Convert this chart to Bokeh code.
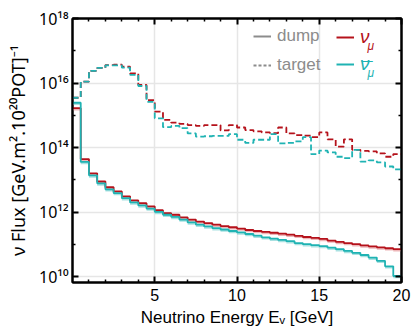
from bokeh.plotting import figure
from bokeh.models import (FixedTicker, LogAxis, LinearAxis, Legend, LegendItem, Label, Range1d)
from bokeh.embed import file_html
from bokeh.resources import INLINE

# ---------------- data ----------------
bin_edges = [0.0, 0.5, 1.0, 1.5, 2.0, 2.5, 3.0, 3.5, 4.0, 4.5, 5.0, 5.5, 6.0, 6.5, 7.0,
             7.5, 8.0, 8.5, 9.0, 9.5, 10.0, 10.5, 11.0, 11.5, 12.0, 12.5, 13.0, 13.5,
             14.0, 14.5, 15.0, 15.5, 16.0, 16.5, 17.0, 17.5, 18.0, 18.5, 19.0, 19.5, 20.0]

numu_target = [3.5e15, 1.1e16, 2.4e16, 2.95e16, 3.6e16, 3.7e16, 3.2e16, 2.0e16, 8.7e15, 2.95e15,
               1.3e15, 7.2e14, 5.9e14, 5.4e14, 5.0e14, 4.7e14, 5.0e14, 5.0e14, 3.4e14, 5.0e14,
               4.2e14, 3.5e14, 3.2e14, 2.95e14, 2.8e14, 4.2e14, 2.75e14, 2.45e14, 2.35e14, 2.1e14,
               2.95e14, 1.8e14, 1.07e14, 1.8e14, 8.5e13, 7.9e13, 7.6e13, 6.6e13, 5.2e13, 6.3e13]

numubar_target = [3.5e15, 1.1e16, 2.4e16, 2.95e16, 3.55e16, 3.55e16, 3.0e16, 1.8e16, 8.1e15, 2.6e15,
                  8.1e14, 4.3e14, 4.7e14, 4.0e14, 2.75e14, 2.2e14, 2.25e14, 2.3e14, 2.3e14, 2.6e14,
                  1.75e14, 1.4e14, 1.75e14, 1.75e14, 2.6e14, 1.35e14, 1.4e14, 1.55e14, 2.1e14, 6.3e13,
                  8.1e13, 7.1e13, 5.2e13, 4.7e13, 8.5e13, 3.7e13, 4.0e13, 3.5e13, 2.6e13, 2.1e13]

numu_dump = [1.66e15, 4.4e13, 1.6e13, 8.9e12, 5.9e12, 4.4e12, 3.1e12, 2.3e12, 1.9e12, 1.5e12,
             1.15e12, 9.3e11, 8.3e11, 6.9e11, 5.9e11, 5.1e11, 4.6e11, 4.1e11, 3.7e11, 3.4e11,
             3.1e11, 2.8e11, 2.6e11, 2.45e11, 2.3e11, 2.15e11, 2.0e11, 1.85e11, 1.7e11, 1.6e11,
             1.48e11, 1.32e11, 1.2e11, 1.1e11, 1.02e11, 9.3e10, 8.7e10, 8.1e10, 7.6e10, 7.1e10]

numubar_dump = [2.45e15, 3.6e13, 1.38e13, 7.8e12, 5.1e12, 3.9e12, 2.7e12, 2.0e12, 1.62e12, 1.29e12,
                1.02e12, 8.3e11, 7.1e11, 5.9e11, 4.8e11, 4.1e11, 3.6e11, 3.2e11, 2.9e11, 2.6e11,
                2.35e11, 2.1e11, 1.86e11, 1.66e11, 1.51e11, 1.38e11, 1.26e11, 1.1e11, 1.02e11, 9.5e10,
                8.9e10, 7.9e10, 7.1e10, 6.3e10, 5.5e10, 4.7e10, 3.9e10, 3.1e10, 2.1e10, 1.05e10]

x_major_ticks = [5, 10, 15, 20]
x_minor_ticks = [1, 2, 3, 4, 6, 7, 8, 9, 11, 12, 13, 14, 16, 17, 18, 19]
y_major_ticks = [1e10, 1e12, 1e14, 1e16, 1e18]
y_minor_ticks = [1e11, 1e13, 1e15, 1e17]
y_tick_labels = ["10\u00b9\u2070", "10\u00b9\u00b2", "10\u00b9\u2074", "10\u00b9\u2076", "10\u00b9\u2078"]

RED = "#b5121b"
CYAN = "#1fb3b3"
RED_BAND = "#e8a4a6"
CYAN_BAND = "#93d9d9"
GRAY = "#8c8c8c"
FONT = "Liberation Sans"
SUPFONT = "Noto Sans"

p = figure(width=415, height=331, output_backend="svg", toolbar_location=None,
           x_range=Range1d(0, 20), y_range=Range1d(10**9.82, 1e18), y_axis_type="log",
           min_border_left=72, min_border_right=14, min_border_top=18, min_border_bottom=49)
p.background_fill_color = "white"
p.border_fill_color = "white"
p.outline_line_color = "black"
p.outline_line_width = 2

# grid
p.xgrid.ticker = FixedTicker(ticks=x_major_ticks)
p.ygrid.ticker = FixedTicker(ticks=y_major_ticks)
for g in (p.xgrid, p.ygrid):
    g.grid_line_color = "#e6e6e6"
    g.grid_line_width = 1.5


def step_vals(v):
    return list(v) + [v[-1]]


band_lo_red = [v * 0.85 for v in numu_dump]
band_lo_cyan = [v * 0.85 for v in numubar_dump]
p.varea_step(x=bin_edges, y1=step_vals(band_lo_red), y2=step_vals(numu_dump), step_mode="after",
             fill_color=RED_BAND, fill_alpha=0.8)
p.varea_step(x=bin_edges, y1=step_vals(band_lo_cyan), y2=step_vals(numubar_dump), step_mode="after",
             fill_color=CYAN_BAND, fill_alpha=0.8)

p.step(bin_edges, step_vals(numu_target), mode="after", line_color=RED, line_width=1.8, line_dash="6 3")
p.step(bin_edges, step_vals(numubar_target), mode="after", line_color=CYAN, line_width=1.8, line_dash="6 3")
p.step(bin_edges, step_vals(numu_dump), mode="after", line_color=RED, line_width=1.8)
p.step(bin_edges, step_vals(numubar_dump), mode="after", line_color=CYAN, line_width=1.8)


def style_axis(ax, major_ticks, minor_ticks):
    ax.ticker = FixedTicker(ticks=major_ticks, minor_ticks=minor_ticks)
    ax.axis_line_color = "black"
    ax.axis_line_width = 2
    ax.major_tick_line_color = "black"
    ax.major_tick_line_width = 2
    ax.major_tick_in = 6
    ax.major_tick_out = 0
    ax.minor_tick_line_color = "black"
    ax.minor_tick_line_width = 1.5
    ax.minor_tick_in = 3
    ax.minor_tick_out = 0
    ax.major_label_text_font = FONT
    ax.major_label_text_font_size = "16px"
    ax.major_label_text_color = "black"
    ax.axis_label_text_font = FONT
    ax.axis_label_text_font_style = "normal"
    ax.axis_label_text_color = "black"


xa = p.xaxis[0]
style_axis(xa, x_major_ticks, x_minor_ticks)
xa.axis_label = "Neutrino Energy E\u1d65 [GeV]"
xa.axis_label_text_font_size = "17px"
xa.major_label_standoff = 6
xa.axis_label_standoff = 4

ya = p.yaxis[0]
style_axis(ya, y_major_ticks, y_minor_ticks)
ya.major_label_overrides = dict(zip(y_major_ticks, y_tick_labels))
ya.major_label_text_font = SUPFONT
ya.axis_label = "\u03bd Flux [GeV.m\u00b2.10\u00b2\u2070POT]\u207b\u00b9"
ya.axis_label_text_font = SUPFONT
ya.axis_label_text_font_size = "18px"
ya.major_label_standoff = 4
ya.axis_label_standoff = 6

top = LinearAxis(major_label_overrides={t: "" for t in x_major_ticks})
style_axis(top, x_major_ticks, x_minor_ticks)
top.major_label_standoff = 0
p.add_layout(top, "above")
right = LogAxis(major_label_overrides={t: "" for t in y_major_ticks})
style_axis(right, y_major_ticks, y_minor_ticks)
right.major_label_standoff = 0
p.add_layout(right, "right")

# legend
r_dump = p.line([0], [1], line_color=GRAY, line_width=2)
r_target = p.line([0], [1], line_color=GRAY, line_width=2, line_dash="3 2")
r_nu = p.line([0], [1], line_color=RED, line_width=2)
r_nubar = p.line([0], [1], line_color=CYAN, line_width=2)

legend_specs = [
    ([LegendItem(label="dump", renderers=[r_dump]),
      LegendItem(label="target", renderers=[r_target])], (181, 207), GRAY, "normal", "17px"),
    ([LegendItem(label="\u03bd", renderers=[r_nu])], (264, 234), RED, "italic", "19px"),
    ([LegendItem(label="\u03bd", renderers=[r_nubar])], (264, 207), CYAN, "italic", "19px"),
]
for items, loc, color, style, size in legend_specs:
    lg = Legend(items=items, location=loc, orientation="vertical")
    lg.background_fill_alpha = 0
    lg.border_line_alpha = 0
    lg.padding = 0
    lg.margin = 0
    lg.spacing = 9
    lg.glyph_width = 18
    lg.glyph_height = 18
    lg.label_height = 18
    lg.label_standoff = 6
    lg.label_text_font = FONT
    lg.label_text_font_size = size
    lg.label_text_color = color
    lg.label_text_font_style = style
    p.add_layout(lg)

# subscripts and the bar of the antineutrino symbol in the legend
p.add_layout(Label(x=295, y=237, x_units="screen", y_units="screen", text="\u03bc",
                   text_color=RED, text_font=FONT, text_font_size="12px",
                   text_font_style="italic", text_baseline="alphabetic"))
p.add_layout(Label(x=295, y=210, x_units="screen", y_units="screen", text="\u03bc",
                   text_color=CYAN, text_font=FONT, text_font_size="12px",
                   text_font_style="italic", text_baseline="alphabetic"))
p.add_layout(Label(x=289, y=214, x_units="screen", y_units="screen", text="\u00af",
                   text_color=CYAN, text_font=FONT, text_font_size="20px",
                   text_font_style="normal", text_baseline="alphabetic"))

open("out.html", "w").write(file_html(p, INLINE))
